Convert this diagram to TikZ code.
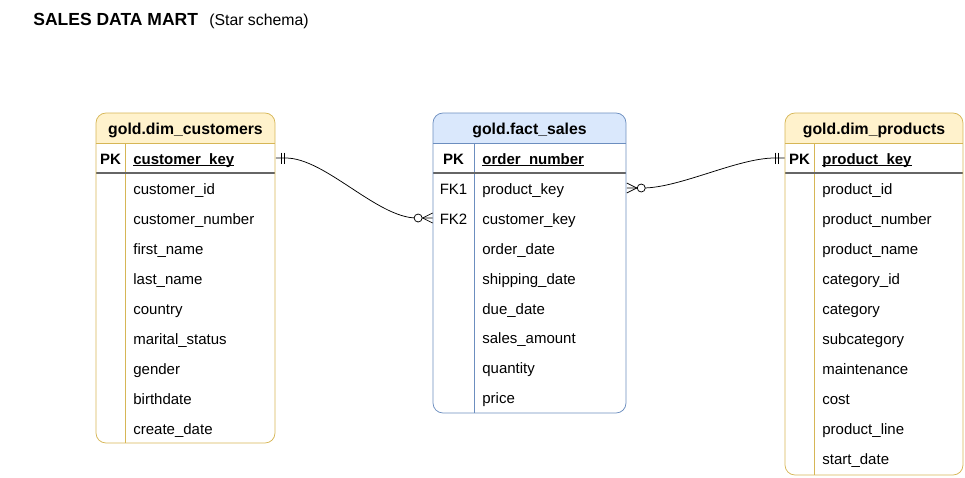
\documentclass[tikz,border=0pt]{standalone}
\usepackage{fontspec}
\setmainfont{Liberation Sans}
\definecolor{dimfill}{RGB}{255, 242, 204}
\definecolor{dimline}{RGB}{214, 182, 86}
\definecolor{factfill}{RGB}{218, 232, 252}
\definecolor{factline}{RGB}{108, 142, 191}
\definecolor{keyline}{RGB}{102, 102, 102}
\newcommand{\pkname}[1]{\setbox0=\hbox{#1}\rlap{\rule[-2.2pt]{\wd0}{0.9pt}}\box0}
\tikzset{every picture/.style={line width=0.75pt}}
\tikzset{
  rowtext/.style={anchor=west, inner sep=0pt, text height=12pt, text depth=0pt, align=left, font=\fontsize{15}{18}\selectfont},
  pktext/.style={rowtext, font=\fontsize{15}{18}\selectfont\bfseries},
  keycol/.style={inner sep=0pt, minimum width=#1, text height=12pt, text depth=0pt, font=\fontsize{15}{18}\selectfont},
  tablehead/.style={inner sep=0pt, text height=12pt, text depth=0pt, font=\fontsize{15.8}{18}\selectfont\bfseries},
}

\begin{document}
\begin{tikzpicture}[x=1pt,y=1pt,yscale=-1,xscale=1]
\useasboundingbox (0,0) rectangle (965,477);

%Text Node [title]
\node [anchor=base west, inner sep=0pt, font=\fontsize{17.5}{20}\selectfont\bfseries] (title) at (33,25) {SALES DATA MART};
\node [anchor=base west, inner sep=0pt, font=\fontsize{15.8}{18}\selectfont] (subtitle) at (209,25) {(Star schema)};

%Shape: Table [gold.dim_customers]
\begin{scope}
\clip [rounded corners=10] (96,113) rectangle (275,443);
\fill [dimfill] (96,113) rectangle (275,143);
\end{scope}
\draw [color=dimline] (96,143) -- (275,143) ;
\draw [color=dimline] (125,143) -- (125,443) ;
\draw [color=keyline, line width=1.6] (96,173) -- (275,173) ;
\draw [color=dimline, rounded corners=10] (96,113) rectangle (275,443) ;

%Shape: Table [gold.fact_sales]
\begin{scope}
\clip [rounded corners=10] (433,113) rectangle (626,413);
\fill [factfill] (433,113) rectangle (626,143);
\end{scope}
\draw [color=factline] (433,143) -- (626,143) ;
\draw [color=factline] (474,143) -- (474,413) ;
\draw [color=keyline, line width=1.6] (433,173) -- (626,173) ;
\draw [color=factline, rounded corners=10] (433,113) rectangle (626,413) ;

%Shape: Table [gold.dim_products]
\begin{scope}
\clip [rounded corners=10] (785,113) rectangle (963,475);
\fill [dimfill] (785,113) rectangle (963,143);
\end{scope}
\draw [color=dimline] (785,143) -- (963,143) ;
\draw [color=dimline] (814,143) -- (814,475) ;
\draw [color=keyline, line width=1.6] (785,173) -- (963,173) ;
\draw [color=dimline, rounded corners=10] (785,113) rectangle (963,475) ;

%Text Nodes [gold.dim_customers]
\node [tablehead] (cust) at (185.5,128) {gold.dim\_customers};
\node [keycol=29, font=\fontsize{15}{18}\selectfont\bfseries] (custpk) at (110.5,158) {PK};
\node [pktext, text width=142] (custkey) at (133,158) {\pkname{customer\_key}};
\node [rowtext] (custid) at (133,188) {customer\_id};
\node [rowtext] (custnum) at (133,218) {customer\_number};
\node [rowtext] (custfirst) at (133,248) {first\_name};
\node [rowtext] (custlast) at (133,278) {last\_name};
\node [rowtext] (custcountry) at (133,308) {country};
\node [rowtext] (custmarital) at (133,338) {marital\_status};
\node [rowtext] (custgender) at (133,368) {gender};
\node [rowtext] (custbirth) at (133,398) {birthdate};
\node [rowtext] (custcreate) at (133,428) {create\_date};

%Text Nodes [gold.fact_sales]
\node [tablehead] (fact) at (529.5,128) {gold.fact\_sales};
\node [keycol=41, font=\fontsize{15}{18}\selectfont\bfseries] (factpk) at (453.5,158) {PK};
\node [pktext] (factorder) at (482,158) {\pkname{order\_number}};
\node [keycol=41] (fk1) at (453.5,188) {FK1};
\node [rowtext, text width=144] (factprod) at (482,188) {product\_key};
\node [keycol=41] (fk2) at (453.5,218) {FK2};
\node [rowtext] (factcust) at (482,218) {customer\_key};
\node [rowtext] (factodate) at (482,248) {order\_date};
\node [rowtext] (factsdate) at (482,278) {shipping\_date};
\node [rowtext] (factddate) at (482,308) {due\_date};
\node [rowtext] (factamount) at (482,337.5) {sales\_amount};
\node [rowtext] (factqty) at (482,367.5) {quantity};
\node [rowtext] (factprice) at (482,397.5) {price};

%Text Nodes [gold.dim_products]
\node [tablehead] (prod) at (874,128) {gold.dim\_products};
\node [keycol=29, font=\fontsize{15}{18}\selectfont\bfseries] (prodpk) at (799.5,158) {PK};
\node [pktext] (prodkey) at (822,158) {\pkname{product\_key}};
\node [rowtext] (prodid) at (822,188) {product\_id};
\node [rowtext] (prodnum) at (822,218) {product\_number};
\node [rowtext] (prodname) at (822,248) {product\_name};
\node [rowtext] (prodcatid) at (822,278) {category\_id};
\node [rowtext] (prodcat) at (822,308) {category};
\node [rowtext] (prodsub) at (822,338) {subcategory};
\node [rowtext] (prodmaint) at (822,368) {maintenance};
\node [rowtext] (prodcost) at (822,398) {cost};
\node [rowtext] (prodline) at (822,428) {product\_line};
\node [rowtext] (prodstart) at (822,458) {start\_date};

%Curve Lines [customers -- fact_sales]
\draw (custkey.east) -- ++(10,0) to[out=0,in=180,looseness=0.7] ([xshift=-16]fk2.west) -- (fk2.west) ;
\draw ([xshift=6]custkey.east) ++(0,-5.5) -- ++(0,11) ;
\draw ([xshift=9]custkey.east) ++(0,-5.5) -- ++(0,11) ;
\draw ([xshift=-10]fk2.west) -- ([yshift=5]fk2.west) ;
\draw ([xshift=-10]fk2.west) -- ([yshift=-5]fk2.west) ;
\draw [fill=white] ([xshift=-14.5]fk2.west) circle (4) ;

%Curve Lines [fact_sales -- products]
\draw (factprod.east) -- ++(16,0) to[out=0,in=180,looseness=0.7] ([xshift=-10]prodpk.west) -- (prodpk.west) ;
\draw ([xshift=10]factprod.east) -- ([yshift=5]factprod.east) ;
\draw ([xshift=10]factprod.east) -- ([yshift=-5]factprod.east) ;
\draw [fill=white] ([xshift=14.5]factprod.east) circle (4) ;
\draw ([xshift=-6]prodpk.west) ++(0,-5.5) -- ++(0,11) ;
\draw ([xshift=-9]prodpk.west) ++(0,-5.5) -- ++(0,11) ;
\end{tikzpicture}
\end{document}
